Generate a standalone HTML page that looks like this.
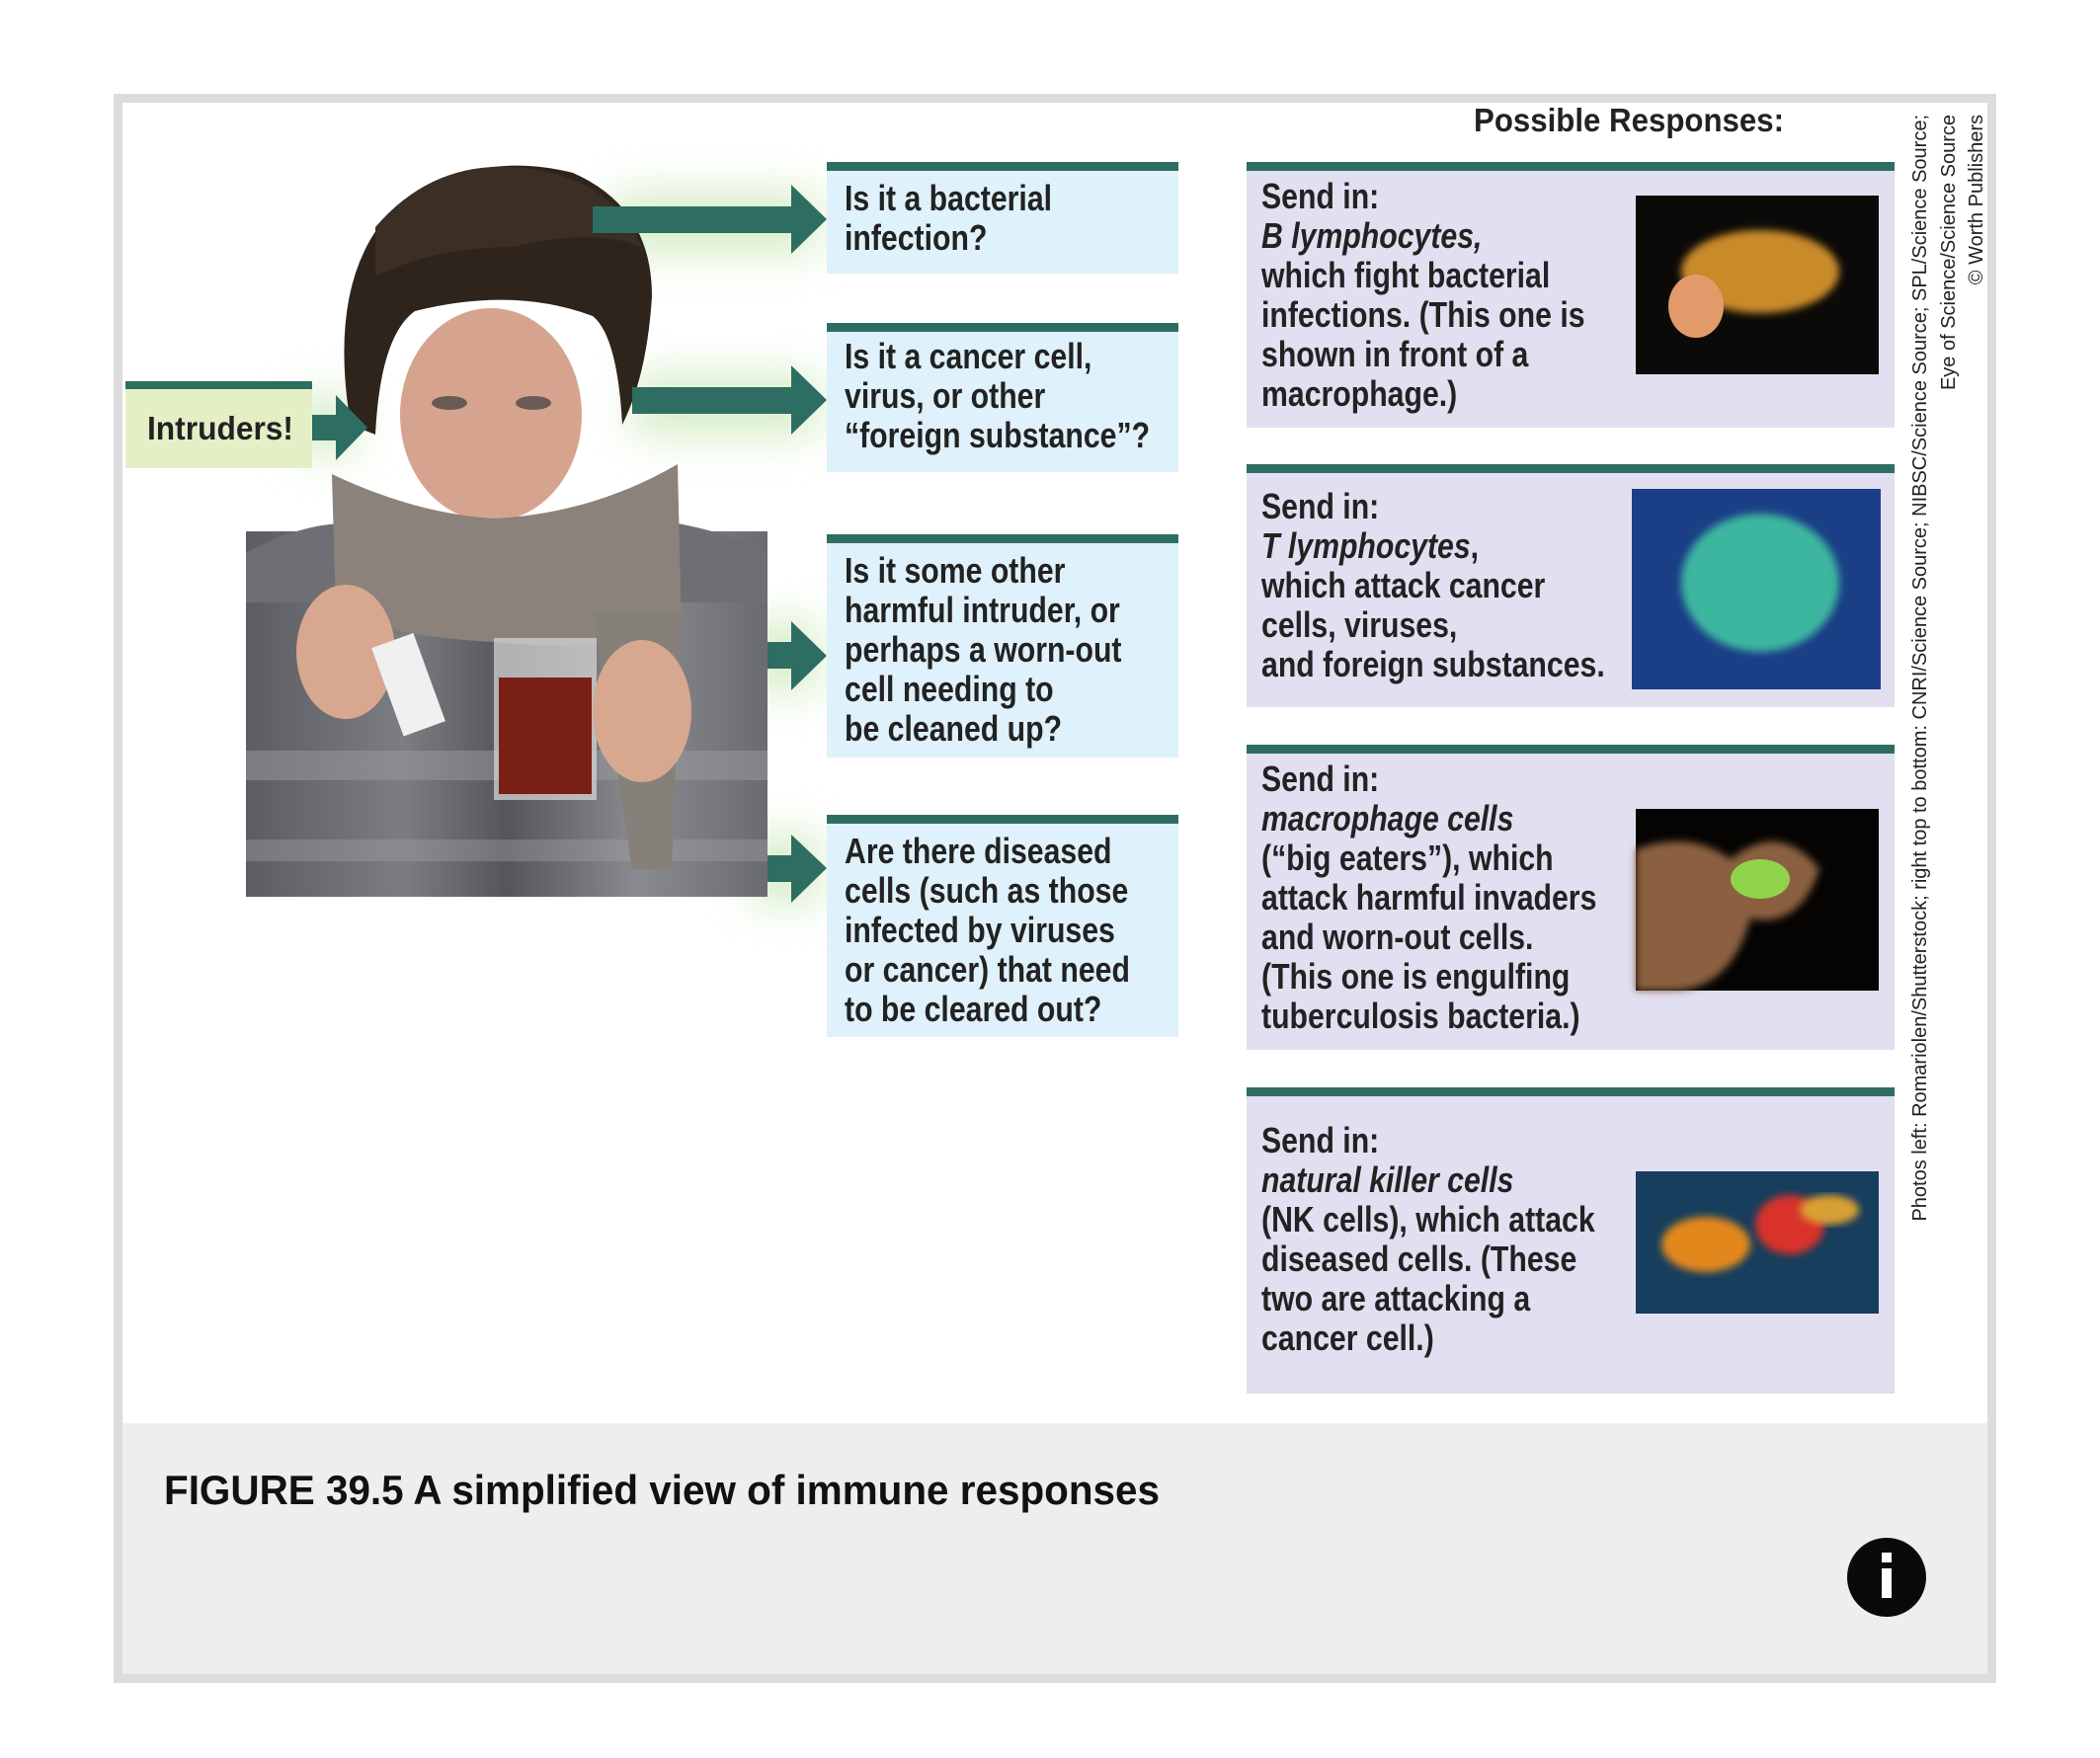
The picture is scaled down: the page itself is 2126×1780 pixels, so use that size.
<!DOCTYPE html>
<html><head><meta charset="utf-8"><style>
html,body{margin:0;padding:0;background:#fff;}
svg{display:block;}
text{font-family:"Liberation Sans",sans-serif;}
</style></head><body>
<svg width="2126" height="1780" viewBox="0 0 2126 1780" xmlns="http://www.w3.org/2000/svg">
<defs>
<filter id="blur" x="-50%" y="-50%" width="200%" height="200%"><feGaussianBlur stdDeviation="22"/></filter>
<filter id="b4"><feGaussianBlur stdDeviation="4"/></filter>
<linearGradient id="sw" x1="0" x2="1" y1="0" y2="0">
<stop offset="0" stop-color="#5c5d62"/><stop offset="0.3" stop-color="#7c7d82"/><stop offset="0.5" stop-color="#55565a"/><stop offset="0.75" stop-color="#8a8b90"/><stop offset="1" stop-color="#6a6b70"/></linearGradient>
</defs>
<!-- frame -->
<rect x="115" y="95" width="1906" height="1609" fill="#dcdcdc"/>
<rect x="124" y="104" width="1888" height="1337" fill="#fff"/>
<rect x="124" y="1441" width="1888" height="254" fill="#eeeeee"/>

<!-- glows -->
<g filter="url(#blur)" fill="#c9e8b5" opacity="0.8">
<rect x="620" y="195" width="210" height="60"/>
<rect x="640" y="380" width="190" height="60"/>
<rect x="760" y="630" width="70" height="70"/>
<rect x="760" y="845" width="70" height="70"/>
<rect x="300" y="400" width="60" height="60"/>
</g>

<!-- person -->
<rect x="249" y="538" width="528" height="370" fill="url(#sw)"/>
<rect x="249" y="760" width="528" height="30" fill="#9a9ba0" opacity="0.5"/>
<rect x="249" y="850" width="528" height="22" fill="#a0a1a6" opacity="0.4"/>
<path d="M249 560 Q300 532 345 530 L686 530 Q740 540 777 560 L777 610 L249 610Z" fill="#6e6f74"/>
<ellipse cx="497" cy="420" rx="92" ry="108" fill="#d6a48e"/>
<path d="M355 430 Q330 280 400 210 Q480 150 580 175 Q660 210 660 300 Q655 380 630 430 Q625 340 600 320 Q520 290 420 315 Q385 340 380 440Z" fill="#2f241c"/>
<path d="M380 230 Q440 160 530 170 Q620 180 650 250 Q600 230 520 250 Q440 250 380 280Z" fill="#3b2e24"/>
<ellipse cx="455" cy="408" rx="18" ry="7" fill="#6a5a55"/>
<ellipse cx="540" cy="408" rx="18" ry="7" fill="#6a5a55"/>
<path d="M336 480 Q420 520 500 525 Q600 520 686 470 L690 640 Q600 660 500 650 Q400 645 340 620Z" fill="#8a827b"/>
<path d="M600 620 L690 620 L680 880 L640 880Z" fill="#85807a"/>
<rect x="500" y="646" width="104" height="164" fill="#d9d9d9" opacity="0.7"/>
<rect x="505" y="686" width="94" height="118" fill="#7a2015"/>
<ellipse cx="350" cy="660" rx="50" ry="68" fill="#d8a790"/>
<rect x="390" y="645" width="45" height="95" fill="#f0f0f0" transform="rotate(-20 415 690)"/>
<ellipse cx="650" cy="720" rx="50" ry="72" fill="#d8a790"/>

<!-- arrows -->
<g fill="#2e6e62">
<rect x="600" y="209" width="204" height="27"/><polygon points="801,187 837,222 801,257"/>
<rect x="640" y="392" width="164" height="27"/><polygon points="801,370 837,405 801,440"/>
<rect x="777" y="650" width="27" height="27"/><polygon points="801,629 837,664 801,699"/>
<rect x="777" y="866" width="27" height="27"/><polygon points="801,845 837,879 801,914"/>
<rect x="316" y="420" width="27" height="26"/><polygon points="340,400 372,433 340,466"/>
</g>

<!-- intruders -->
<rect x="127" y="386" width="189" height="88" fill="#e5efc6"/>
<rect x="127" y="386" width="189" height="8" fill="#2e6e62"/>
<text x="149" y="445" font-size="33" font-weight="bold" fill="#222" textLength="148" lengthAdjust="spacingAndGlyphs">Intruders!</text>

<!-- question boxes -->
<g fill="#dff1fa">
<rect x="837" y="164" width="356" height="113"/>
<rect x="837" y="327" width="356" height="151"/>
<rect x="837" y="541" width="356" height="226"/>
<rect x="837" y="825" width="356" height="225"/>
</g>
<g fill="#2e6e62">
<rect x="837" y="164" width="356" height="9"/>
<rect x="837" y="327" width="356" height="9"/>
<rect x="837" y="541" width="356" height="9"/>
<rect x="837" y="825" width="356" height="9"/>
</g>
<g font-size="36" font-weight="bold" fill="#222">
<g transform="translate(855,0) scale(0.84,1)">
<text x="0" y="213">Is it a bacterial</text><text x="0" y="253">infection?</text>
<text x="0" y="373">Is it a cancer cell,</text><text x="0" y="413">virus, or other</text><text x="0" y="453">“foreign substance”?</text>
<text x="0" y="590">Is it some other</text><text x="0" y="630">harmful intruder, or</text><text x="0" y="670">perhaps a worn-out</text><text x="0" y="710">cell needing to</text><text x="0" y="750">be cleaned up?</text>
<text x="0" y="874">Are there diseased</text><text x="0" y="914">cells (such as those</text><text x="0" y="954">infected by viruses</text><text x="0" y="994">or cancer) that need</text><text x="0" y="1034">to be cleared out?</text>
</g></g>

<!-- response boxes -->
<text x="1492" y="133" font-size="33" font-weight="bold" fill="#222" textLength="314" lengthAdjust="spacingAndGlyphs">Possible Responses:</text>
<g fill="#e1dff0">
<rect x="1262" y="164" width="656" height="269"/>
<rect x="1262" y="470" width="656" height="246"/>
<rect x="1262" y="754" width="656" height="309"/>
<rect x="1262" y="1101" width="656" height="310"/>
</g>
<g fill="#2e6e62">
<rect x="1262" y="164" width="656" height="9"/>
<rect x="1262" y="470" width="656" height="9"/>
<rect x="1262" y="754" width="656" height="9"/>
<rect x="1262" y="1101" width="656" height="9"/>
</g>
<g font-size="36" font-weight="bold" fill="#222">
<g transform="translate(1277,0) scale(0.84,1)">
<text x="0" y="211">Send in:</text><text x="0" y="251" font-style="italic">B lymphocytes,</text><text x="0" y="291">which fight bacterial</text><text x="0" y="331">infections. (This one is</text><text x="0" y="371">shown in front of a</text><text x="0" y="411">macrophage.)</text>
<text x="0" y="525">Send in:</text><text x="0" y="565"><tspan font-style="italic">T lymphocytes</tspan>,</text><text x="0" y="605">which attack cancer</text><text x="0" y="645">cells, viruses,</text><text x="0" y="685">and foreign substances.</text>
<text x="0" y="801">Send in:</text><text x="0" y="841" font-style="italic">macrophage cells</text><text x="0" y="881">(“big eaters”), which</text><text x="0" y="921">attack harmful invaders</text><text x="0" y="961">and worn-out cells.</text><text x="0" y="1001">(This one is engulfing</text><text x="0" y="1041">tuberculosis bacteria.)</text>
<text x="0" y="1167">Send in:</text><text x="0" y="1207" font-style="italic">natural killer cells</text><text x="0" y="1247">(NK cells), which attack</text><text x="0" y="1287">diseased cells. (These</text><text x="0" y="1327">two are attacking a</text><text x="0" y="1367">cancer cell.)</text>
</g></g>

<!-- micrographs -->
<rect x="1656" y="198" width="246" height="181" fill="#0c0a08"/>
<ellipse cx="1782" cy="275" rx="80" ry="42" fill="#c98a2a" filter="url(#b4)"/>
<ellipse cx="1717" cy="310" rx="28" ry="32" fill="#e39a6a"/>
<rect x="1652" y="495" width="252" height="203" fill="#1a3f86"/>
<ellipse cx="1782" cy="590" rx="80" ry="70" fill="#3cb6a0" filter="url(#b4)"/>
<rect x="1656" y="819" width="246" height="184" fill="#050403"/>
<path d="M1656 860 Q1712 840 1752 870 Q1802 830 1842 880 Q1822 940 1772 930 Q1752 1003 1692 1003 L1656 1003Z" fill="#8a6040" filter="url(#b4)"/>
<ellipse cx="1782" cy="890" rx="30" ry="20" fill="#8fd34a"/>
<rect x="1656" y="1186" width="246" height="144" fill="#173e5c"/>
<ellipse cx="1727" cy="1260" rx="45" ry="28" fill="#e2871e" filter="url(#b4)"/>
<ellipse cx="1812" cy="1240" rx="35" ry="30" fill="#d8302a" filter="url(#b4)"/>
<ellipse cx="1852" cy="1225" rx="30" ry="15" fill="#d8a030" filter="url(#b4)"/>

<!-- credits -->
<g font-size="20" fill="#222" text-anchor="end">
<text transform="translate(1950,116) rotate(-90)">Photos left: Romariolen/Shutterstock; right top to bottom: CNRI/Science Source; NIBSC/Science Source; SPL/Science Source;</text>
<text transform="translate(1979,116) rotate(-90)">Eye of Science/Science Source</text>
<text transform="translate(2007,116) rotate(-90)">© Worth Publishers</text>
</g>

<!-- caption -->
<text x="166" y="1523" font-size="42" font-weight="bold" fill="#111" textLength="1008" lengthAdjust="spacingAndGlyphs">FIGURE 39.5 A simplified view of immune responses</text>
<circle cx="1910" cy="1597" r="40" fill="#0a0a0a"/>
<rect x="1905" y="1572" width="10" height="10" fill="#fff"/>
<rect x="1905" y="1588" width="10" height="30" fill="#fff"/>
</svg>
</body></html>
